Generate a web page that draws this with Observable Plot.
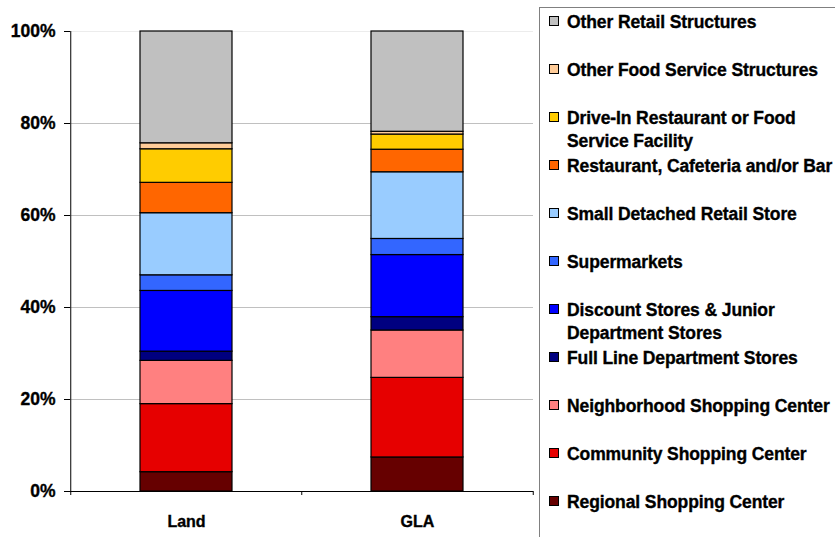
<!DOCTYPE html>
<html><head><meta charset="utf-8">
<script src="https://cdn.jsdelivr.net/npm/d3@7"></script>
<script src="https://cdn.jsdelivr.net/npm/@observablehq/plot@0.6"></script>
<style>
body{margin:0;background:#fff;overflow:hidden;font-family:"Liberation Sans",Arial,sans-serif;}
#wrap{position:relative;width:835px;height:537px;overflow:hidden;}
#chart{position:absolute;left:0;top:0;}
#chart svg text{stroke:#000;stroke-width:0.35px;}
#legend{position:absolute;left:539px;top:7px;width:330px;height:560px;border:1px solid #808080;box-sizing:border-box;background:#fff;}
.item{position:absolute;left:9px;font-weight:bold;font-size:17.5px;line-height:23px;white-space:pre;letter-spacing:-0.1px;color:#000;-webkit-text-stroke:0.35px #000;}
.sw{position:absolute;left:0;top:5px;width:8px;height:8px;border:1px solid #000;-webkit-text-stroke:0;}
.lab{padding-left:18px;display:block;}
</style>
</head><body>
<div id="wrap"><div id="chart"></div><div id="legend"></div></div>
<script>
const categories = ["Land", "GLA"];
const series = [
  "Regional Shopping Center",
  "Community Shopping Center",
  "Neighborhood Shopping Center",
  "Full Line Department Stores",
  "Discount Stores & Junior Department Stores",
  "Supermarkets",
  "Small Detached Retail Store",
  "Restaurant, Cafeteria and/or Bar",
  "Drive-In Restaurant or Food Service Facility",
  "Other Food Service Structures",
  "Other Retail Structures"
];
const legendLabels = [
  "Regional Shopping Center",
  "Community Shopping Center",
  "Neighborhood Shopping Center",
  "Full Line Department Stores",
  "Discount Stores & Junior\nDepartment Stores",
  "Supermarkets",
  "Small Detached Retail Store",
  "Restaurant, Cafeteria and/or Bar",
  "Drive-In Restaurant or Food\nService Facility",
  "Other Food Service Structures",
  "Other Retail Structures"
];
const landValues = [4.2, 14.8, 9.4, 2.0, 13.2, 3.4, 13.5, 6.6, 7.3, 1.3, 24.3];
const glaValues  = [7.4, 17.3, 10.3, 2.9, 13.5, 3.5, 14.5, 4.9, 3.3, 0.6, 21.8];
const colors = ["#660000", "#E60000", "#FF8080", "#000080", "#0000FF", "#3366FF", "#99CCFF", "#FF6600", "#FFCC00", "#FFCC99", "#C0C0C0"];
const yTicks = [0, 20, 40, 60, 80, 100];

const data = [];
series.forEach((s, i) => {
  data.push({category: categories[0], series: s, value: landValues[i]});
  data.push({category: categories[1], series: s, value: glaValues[i]});
});

const W = 539, H = 537, mL = 70, mR = 6, mT = 31, mB = 46;
const step = (W - mL - mR) / categories.length;

const chart = Plot.plot({
  width: W, height: H,
  marginLeft: mL, marginRight: mR, marginTop: mT, marginBottom: mB,
  style: {fontFamily: "'Liberation Sans', Arial, sans-serif", fontSize: "17px", fontWeight: "bold", color: "#000", background: "#fff"},
  x: {domain: categories, paddingInner: 0.6, paddingOuter: 0.3, label: null},
  y: {domain: [0, 100], label: null},
  color: {domain: series, range: colors},
  marks: [
    Plot.gridY(yTicks.filter(d => d > 0 && d < 100), {stroke: "#c0c0c0", strokeOpacity: 1}),
    Plot.gridY([100], {stroke: "#ececec", strokeOpacity: 1}),
    Plot.barY(data, {x: "category", y: "value", fill: "series", order: series, stroke: "#000", strokeWidth: 1.2}),
    Plot.ruleY([0], {stroke: "#000", strokeWidth: 1}),
    Plot.ruleX([categories[0]], {dx: -step / 2, y1: 0, y2: 100, stroke: "#000"}),
    Plot.ruleX([categories[0]], {dx: -step / 2, y1: 0, y2: 0, insetBottom: -4, stroke: "#000"}),
    Plot.ruleX([categories[1]], {dx: -step / 2, y1: 0, y2: 0, insetBottom: -4, stroke: "#000"}),
    Plot.ruleX([categories[1]], {dx: step / 2, y1: 0, y2: 0, insetBottom: -4, stroke: "#000"}),
    Plot.axisY({ticks: yTicks, tickSize: 6, tickPadding: 9, tickFormat: d => d + "%", fontSize: 17.5, fontWeight: "bold"}),
    Plot.axisX({tickSize: 0, tickPadding: 24, fontSize: 16, fontWeight: "bold"})
  ]
});
document.getElementById("chart").appendChild(chart);

const legend = document.getElementById("legend");
const n = series.length;
for (let k = 0; k < n; k++) {
  const i = n - 1 - k;
  const item = document.createElement("div");
  item.className = "item";
  item.style.top = (22 + k * 48 - 8 - 11.5) + "px";
  const sw = document.createElement("span");
  sw.className = "sw";
  sw.style.background = colors[i];
  const lab = document.createElement("span");
  lab.className = "lab";
  lab.textContent = legendLabels[i];
  item.appendChild(sw);
  item.appendChild(lab);
  legend.appendChild(item);
}
</script>
</body></html>
